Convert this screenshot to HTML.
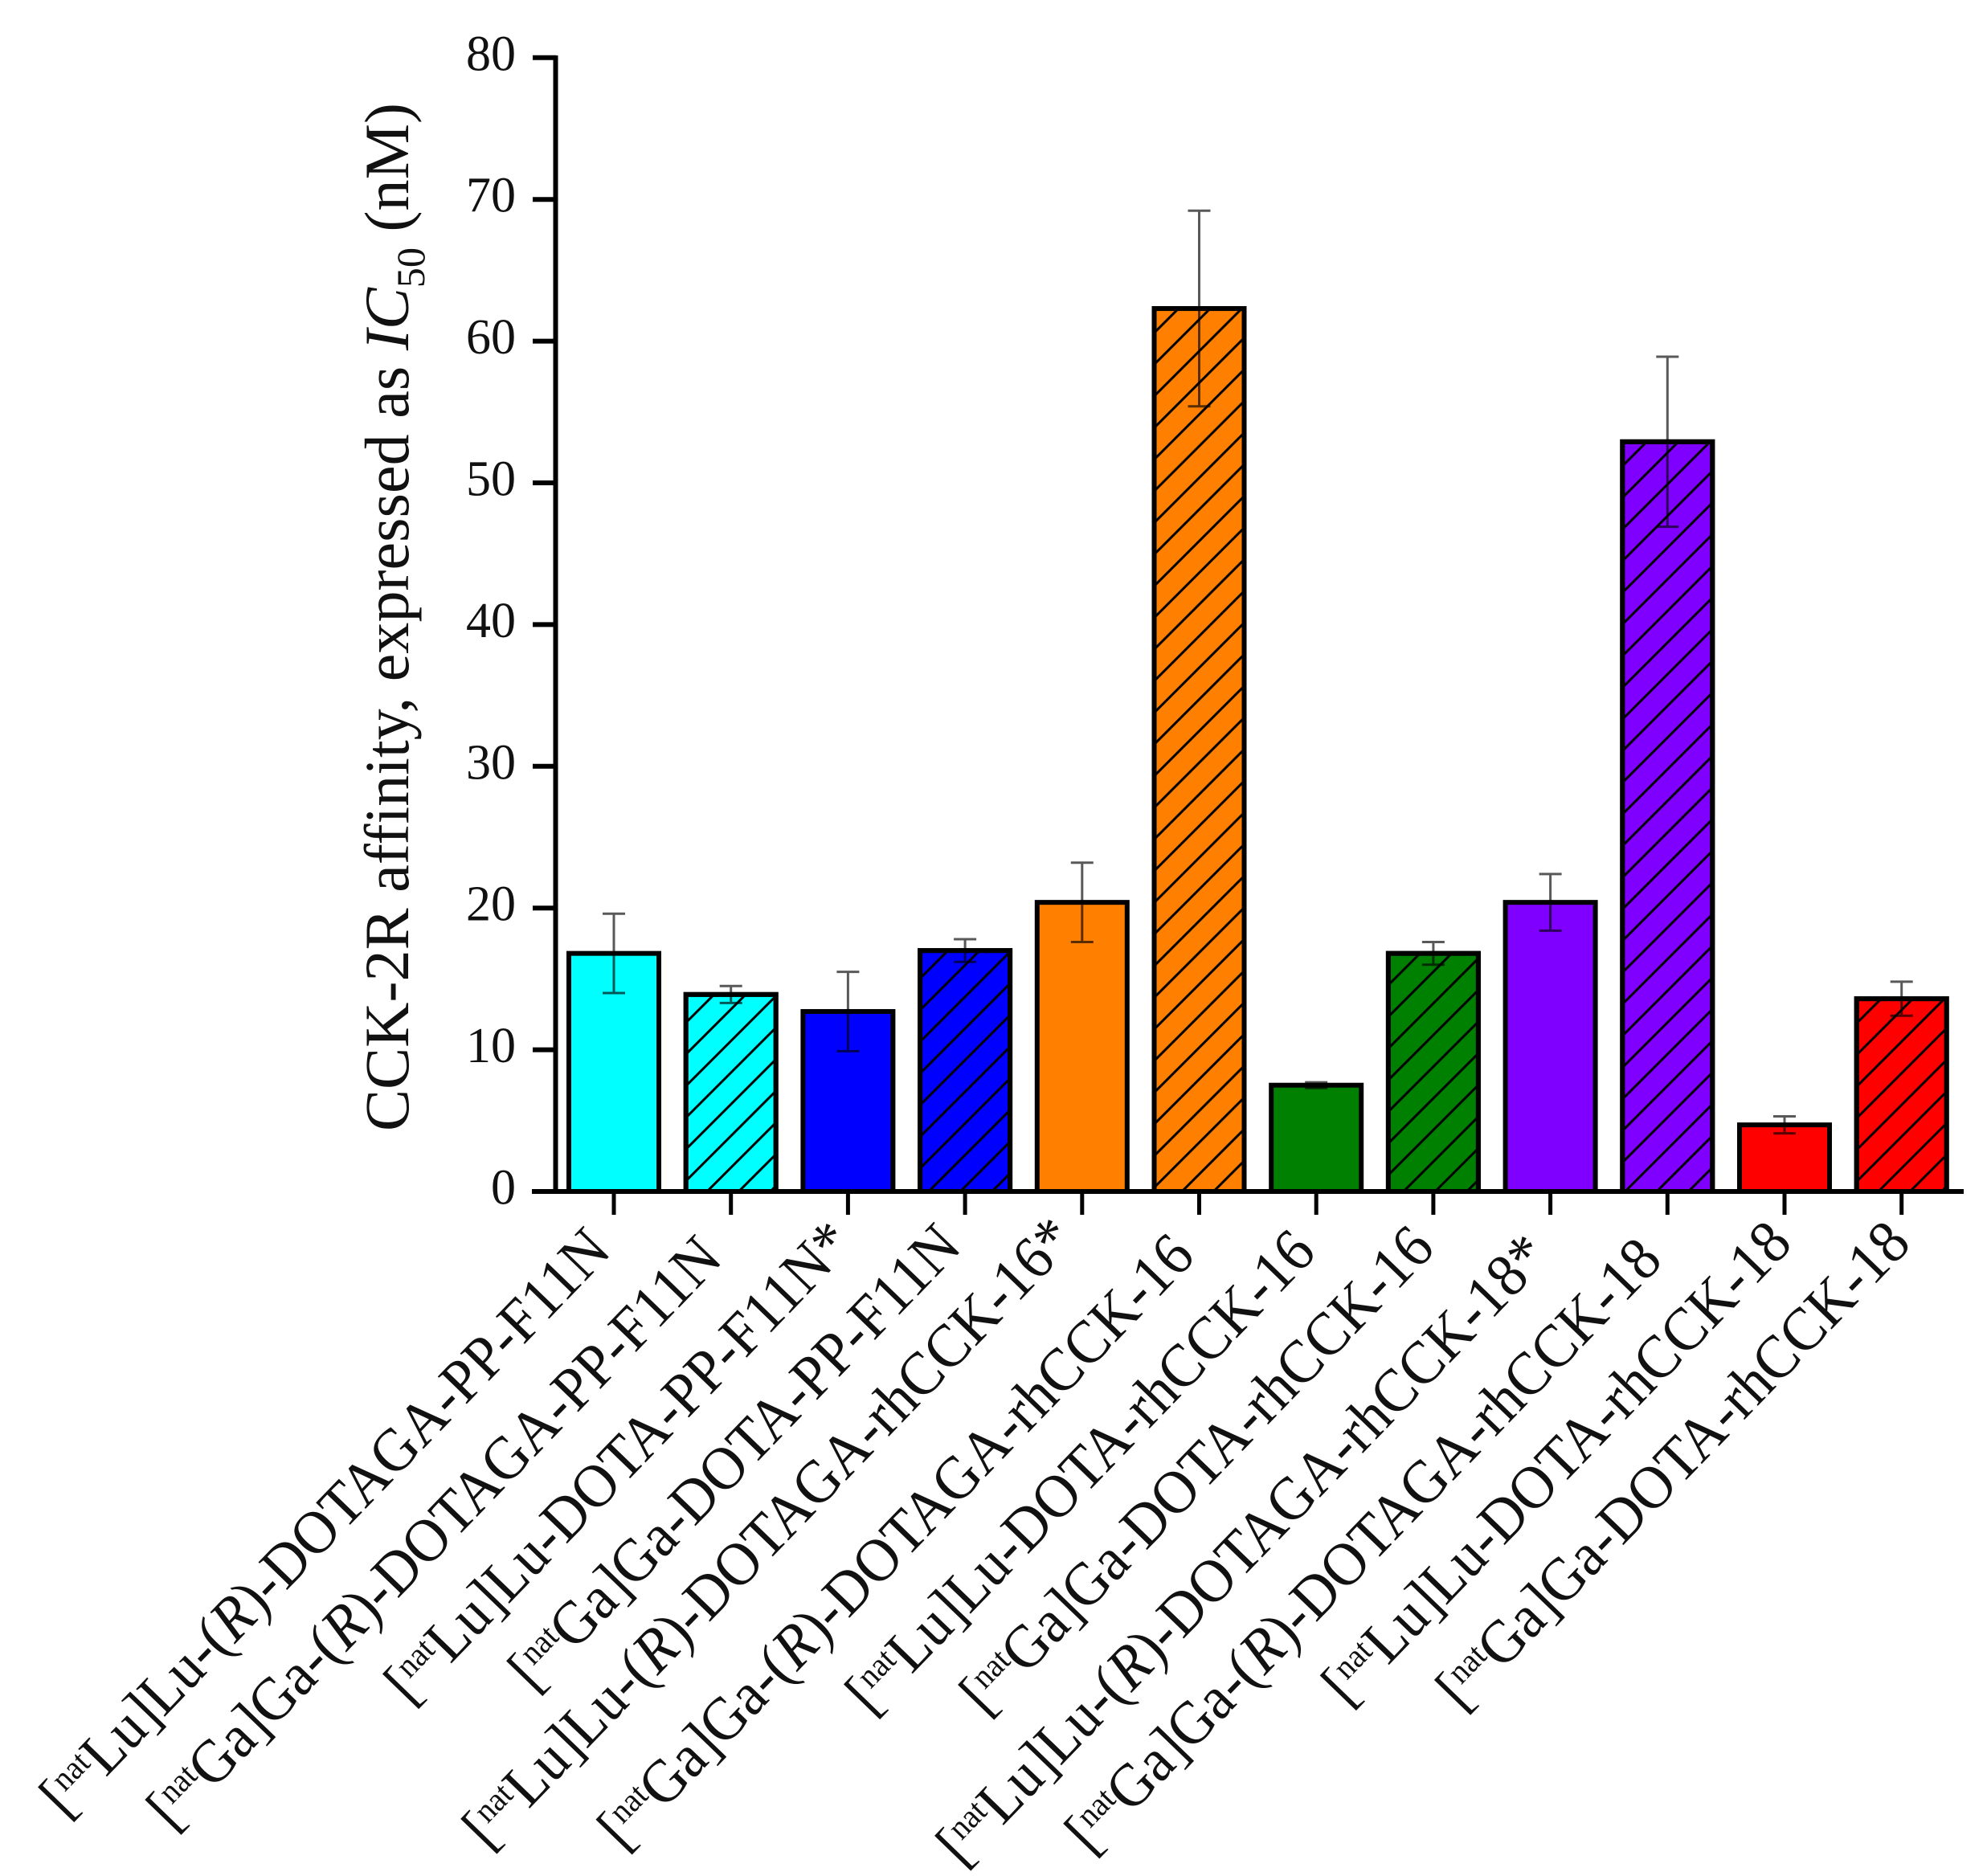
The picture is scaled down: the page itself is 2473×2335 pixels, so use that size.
<!DOCTYPE html>
<html>
<head>
<meta charset="utf-8">
<title>CCK-2R affinity chart</title>
<style>
html,body{margin:0;padding:0;background:#fff;}
svg{display:block;}
text{font-family:"Liberation Serif","Noto Serif CJK SC",serif;fill:#111;}
</style>
</head>
<body>
<svg id="chart" xmlns="http://www.w3.org/2000/svg" width="2473" height="2335" viewBox="0 0 2473 2335">
<rect x="0" y="0" width="2473" height="2335" fill="#ffffff"/>
<defs>
<pattern id="hatch" patternUnits="userSpaceOnUse" x="883" y="1480" width="39.4" height="39.4">
<path d="M-4,4 L4,-4 M0,39.4 L39.4,0 M35.4,43.4 L43.4,35.4" stroke="#000" stroke-width="3" fill="none"/>
</pattern>
</defs>
<g id="bars"></g>
<g id="errors"></g>
<g id="axes"></g>
<text transform="translate(508,1408) rotate(-90)" font-size="78" textLength="1280" lengthAdjust="spacing">CCK-2R affinity, expressed as <tspan font-style="italic">IC</tspan><tspan font-size="50" dy="20">50</tspan><tspan dy="-20"> (nM)</tspan></text>
</svg>
<script>
const categories = [
  "[^nat^Lu]Lu-(_R_)-DOTAGA-PP-F11N",
  "[^nat^Ga]Ga-(_R_)-DOTAGA-PP-F11N",
  "[^nat^Lu]Lu-DOTA-PP-F11N*",
  "[^nat^Ga]Ga-DOTA-PP-F11N",
  "[^nat^Lu]Lu-(_R_)-DOTAGA-rhCCK-16*",
  "[^nat^Ga]Ga-(_R_)-DOTAGA-rhCCK-16",
  "[^nat^Lu]Lu-DOTA-rhCCK-16",
  "[^nat^Ga]Ga-DOTA-rhCCK-16",
  "[^nat^Lu]Lu-(_R_)-DOTAGA-rhCCK-18*",
  "[^nat^Ga]Ga-(_R_)-DOTAGA-rhCCK-18",
  "[^nat^Lu]Lu-DOTA-rhCCK-18",
  "[^nat^Ga]Ga-DOTA-rhCCK-18"
];
const values = [16.8, 13.9, 12.7, 17.0, 20.4, 62.3, 7.5, 16.8, 20.4, 52.9, 4.7, 13.6];
const errors = [2.8, 0.6, 2.8, 0.8, 2.8, 6.9, 0.2, 0.8, 2.0, 6.0, 0.6, 1.2];
const colors = ["#00ffff", "#00ffff", "#0000ff", "#0000ff", "#ff8000", "#ff8000", "#008000", "#008000", "#8000ff", "#8000ff", "#ff0000", "#ff0000"];
const hatched = [false, true, false, true, false, true, false, true, false, true, false, true];
const yTicks = [0, 10, 20, 30, 40, 50, 60, 70, 80];

const NS = "http://www.w3.org/2000/svg";
const yScale = v => 1483 - v * 17.64;
const xScale = i => 764 + i * 145.7;
const barWidth = 112;

function mk(tag, attrs, parent) {
  const el = document.createElementNS(NS, tag);
  for (const k in attrs) el.setAttribute(k, attrs[k]);
  parent.appendChild(el);
  return el;
}

const barsG = document.getElementById("bars");
const errG = document.getElementById("errors");
const axesG = document.getElementById("axes");

values.forEach((v, i) => {
  const x = xScale(i) - barWidth / 2;
  const y = yScale(v);
  const h = yScale(0) - y;
  const bar = mk("rect", {x: x, y: y, width: barWidth, height: h, fill: colors[i], stroke: "#000", "stroke-width": 6}, barsG);
  
  
  if (hatched[i]) {
    const hatch = mk("rect", {x: x, y: y, width: barWidth, height: h, fill: "url(#hatch)", stroke: "#000", "stroke-width": 6}, barsG);
    
    
  }
  const cx = xScale(i);
  const yHi = yScale(v + errors[i]);
  const yLo = yScale(v - errors[i]);
  const eb = mk("path", {d: `M${cx - 14},${yHi} H${cx + 14} M${cx},${yHi} V${yLo} M${cx - 14},${yLo} H${cx + 14}`, stroke: "#000", "stroke-opacity": 0.65, "stroke-width": 3, fill: "none"}, errG);
  
  
});

const yAxis = mk("line", {x1: 691.5, y1: 69, x2: 691.5, y2: 1486, stroke: "#000", "stroke-width": 6}, axesG);



const xAxis = mk("line", {x1: 662, y1: 1483, x2: 2444, y2: 1483, stroke: "#000", "stroke-width": 6}, axesG);



yTicks.forEach(t => {
  const y = yScale(t);
  if (t !== 0) {
    const tk = mk("line", {x1: 663, y1: y, x2: 692, y2: y, stroke: "#000", "stroke-width": 6}, axesG);
    
    
  }
  const lab = mk("text", {x: 642, y: y + 15.5, "text-anchor": "end", "font-size": 62}, axesG);
  lab.textContent = String(t);
  
  
});

function drawCategoryLabels() {
  const nudgeX = [-1, -8, 9, -2, -6, -3, 2, 4, 1, -4, 12, 14];
  const nudgeY = [1559, 1569, 1550, 1554, 1545, 1566, 1561, 1556, 1566, 1571, 1550, 1550];
  categories.forEach((c, i) => {
    const cx = xScale(i);
    const tk = mk("line", {x1: cx, y1: 1483, x2: cx, y2: 1512, stroke: "#000", "stroke-width": 5}, axesG);
    
    

    const lab = mk("text", {transform: `translate(${cx + nudgeX[i]},${nudgeY[i]}) rotate(-46) scale(0.945,1)`, "text-anchor": "end", "font-size": 76}, axesG);
    
    
    const parts = c.split(/(\^[^^]*\^|_[^_]*_)/).filter(Boolean);
    let pendingDy = 0;
    parts.forEach(p => {
      const ts = mk("tspan", {}, lab);
      if (p[0] === "^") {
        ts.textContent = p.slice(1, -1);
        ts.setAttribute("font-size", "42");
        ts.setAttribute("dy", "-24");
        pendingDy = 24;
      } else {
        if (p[0] === "_") {
          ts.textContent = p.slice(1, -1);
          ts.setAttribute("font-style", "italic");
        } else {
          ts.textContent = p;
        }
        if (pendingDy) {
          ts.setAttribute("dy", String(pendingDy));
          pendingDy = 0;
        }
      }
    });
  });
}
drawCategoryLabels();
</script>
</body>
</html>
